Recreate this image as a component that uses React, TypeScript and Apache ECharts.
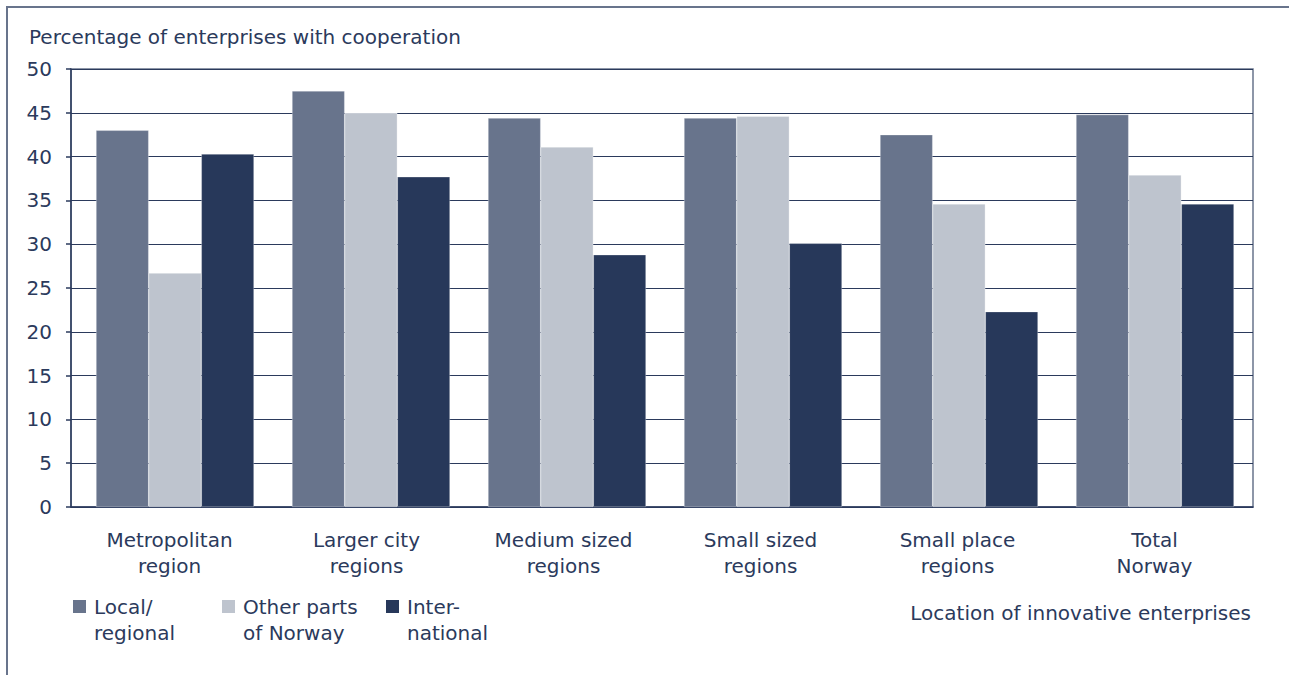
import React, { useEffect, useRef } from "react";
import * as echarts from "echarts";

const categories = [
  "Metropolitan\nregion",
  "Larger city\nregions",
  "Medium sized\nregions",
  "Small sized\nregions",
  "Small place\nregions",
  "Total\nNorway",
];
const seriesNames = ["Local/\nregional", "Other parts\nof Norway", "Inter-\nnational"];
const localRegional = [43.0, 47.5, 44.4, 44.4, 42.5, 44.8];
const otherNorway = [26.7, 45.0, 41.1, 44.6, 34.6, 37.9];
const international = [40.3, 37.7, 28.8, 30.1, 22.3, 34.6];
const colors = ["#68748c", "#bec4ce", "#27385a"];
const yTitle = "Percentage of enterprises with cooperation";
const xTitle = "Location of innovative enterprises";

const TEXT = "#2b3a5c";
const FONT = "DejaVu Sans";
const FS = 20;

export default function App() {
  const ref = useRef<HTMLDivElement>(null);
  useEffect(() => {
    if (!ref.current) return;
    const chart = echarts.init(ref.current, undefined, { renderer: "svg" });
    const data = [localRegional, otherNorway, international];
    const legendX = [73, 222, 386];
    const legendGraphics: any[] = [];
    seriesNames.forEach((n, i) => {
      legendGraphics.push({
        type: "rect",
        shape: { x: legendX[i], y: 600, width: 13, height: 13 },
        style: { fill: colors[i] },
      });
      legendGraphics.push({
        type: "text",
        x: legendX[i] + 21,
        y: 594,
        style: {
          text: n,
          font: `${FS}px "${FONT}"`,
          fill: TEXT,
          lineHeight: 26,
          textVerticalAlign: "top",
        },
      });
    });
    const gridBase = { right: 36, top: 69, bottom: 168 };
    chart.setOption({
      animation: false,
      textStyle: { fontFamily: FONT, color: TEXT },
      grid: [
        {
          ...gridBase,
          left: 71,
          show: true,
          borderColor: "#68748c",
          borderWidth: 1.5,
        },
        { ...gridBase, left: 77 },
      ],
      xAxis: [
        {
          gridIndex: 0,
          type: "category",
          data: categories,
          axisLine: { show: true, lineStyle: { color: TEXT, width: 1.5 } },
          axisTick: { show: false },
          axisLabel: {
            color: TEXT,
            fontSize: FS,
            fontFamily: FONT,
            lineHeight: 26,
            margin: 20,
            interval: 0,
          },
        },
        {
          gridIndex: 1,
          type: "category",
          data: categories,
          show: false,
        },
      ],
      yAxis: [
        {
          gridIndex: 0,
          type: "value",
          min: 0,
          max: 50,
          interval: 5,
          axisLine: { show: true, lineStyle: { color: TEXT, width: 1.5 } },
          axisTick: { show: true, length: 5, lineStyle: { color: TEXT, width: 1.5 } },
          splitLine: { show: true, lineStyle: { color: TEXT, width: 1 } },
          axisLabel: { color: TEXT, fontSize: FS, fontFamily: FONT, margin: 19 },
        },
        {
          gridIndex: 1,
          type: "value",
          min: 0,
          max: 50,
          interval: 5,
          show: false,
          splitLine: { show: false },
        },
      ],
      series: seriesNames.map((n, i) => ({
        name: n,
        type: "bar",
        xAxisIndex: 1,
        yAxisIndex: 1,
        data: data[i],
        barGap: "0%",
        barCategoryGap: "19.4%",
        itemStyle: { color: colors[i], borderColor: "rgba(255,255,255,0.6)", borderWidth: 0.5 },
      })),
      graphic: [
        {
          type: "rect",
          shape: { x: 7, y: 7, width: 1400, height: 800 },
          style: { fill: "none", stroke: "#68748c", lineWidth: 2 },
          silent: true,
        },
        {
          type: "text",
          x: 29,
          y: 37,
          style: {
            text: yTitle,
            font: `${FS}px "${FONT}"`,
            fill: TEXT,
            textVerticalAlign: "middle",
          },
        },
        {
          type: "text",
          x: 1251,
          y: 613,
          style: {
            text: xTitle,
            font: `${FS}px "${FONT}"`,
            fill: TEXT,
            textAlign: "right",
            textVerticalAlign: "middle",
          },
        },
        ...legendGraphics,
      ],
    });
    return () => chart.dispose();
  }, []);
  return (
    <div
      ref={ref}
      style={{ position: "fixed", left: 0, top: 0, width: 1289, height: 675, background: "#fff" }}
    />
  );
}
